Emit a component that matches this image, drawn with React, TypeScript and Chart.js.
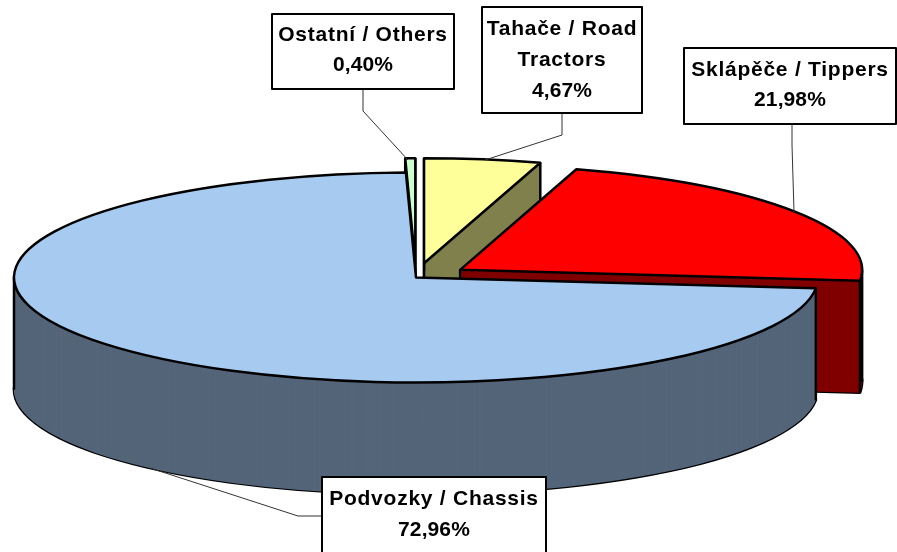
import React, { useEffect, useRef } from "react";
import { Chart, registerables } from "chart.js";

Chart.register(...registerables);

// Data, clockwise from twelve o'clock
const categories = ["Tahače / Road Tractors", "Sklápěče / Tippers", "Podvozky / Chassis", "Ostatní / Others"];
const shares = [4.67, 21.98, 72.96, 0.4];
const shareLabels = ["4,67%", "21,98%", "72,96%", "0,40%"];
const nameLines = [["Tahače / Road", "Tractors"], ["Sklápěče / Tippers"], ["Podvozky / Chassis"], ["Ostatní / Others"]];

// Styles
const topColors = ["#ffff99", "#ff0000", "#a6caf0", "#ccffcc"];
const wallColors = ["#80804d", "#800000", "#546579", "#668066"];

// Layout
const W = 897;
const H = 552;
const CX = 416;
const CY = 277.5;
const RX = 402;
const RY = 105;
const DEPTH = 112;
const explodeBy = [55, 53, 0, 55];
const paintOrder = [0, 1, 3, 2];
const boxes = [
  { x: 482, y: 7, w: 160, h: 106, first: 29, step: 31, leader: [[562, 113], [562, 135], [485, 160]] },
  { x: 684, y: 48, w: 212, h: 76, first: 70, step: 30.5, leader: [[792, 124], [792, 145], [794, 212]] },
  { x: 322, y: 477, w: 224, h: 90, first: 499, step: 31, leader: [[322, 516], [298, 516], [150, 468]] },
  { x: 272, y: 14, w: 182, h: 75, first: 35, step: 30.5, leader: [[363, 89], [363, 111], [408, 160]] },
];

const pie3d = {
  id: "pie3d",
  beforeDatasetsDraw(chart: any) {
    const ctx = chart.ctx as CanvasRenderingContext2D;
    const arcs = chart.getDatasetMeta(0).data;
    for (const i of paintOrder) {
      const arc = arcs[i];
      const mid = (arc.startAngle + arc.endAngle) / 2;
      const cx = CX + Math.cos(mid) * explodeBy[i];
      const cy = CY + (Math.sin(mid) * explodeBy[i] * RY) / RX;
      const s = RX / arc.outerRadius;
      const t = RY / arc.outerRadius;

      const face = (el: any, dy: number) => {
        ctx.save();
        ctx.translate(cx, cy + dy);
        ctx.scale(s, t);
        ctx.translate(-arc.x, -arc.y);
        el.draw(ctx);
        ctx.restore();
      };
      const outline = (dy: number) => {
        ctx.beginPath();
        ctx.moveTo(cx, cy + dy);
        ctx.ellipse(cx, cy + dy, RX, RY, 0, arc.startAngle, arc.endAngle);
        ctx.closePath();
        ctx.strokeStyle = "#000";
        ctx.lineWidth = 2.5;
        ctx.lineJoin = "round";
        ctx.stroke();
      };

      const wall = Object.create(arc);
      wall.options = { ...arc.options, backgroundColor: wallColors[i], borderWidth: 0 };
      outline(DEPTH);
      for (let d = DEPTH; d >= 1; d--) face(wall, d);

      // vertical edges of the wall that can be seen from the front
      const edges: number[] = [arc.endAngle];
      const startHidden = Math.sin(arc.startAngle) < 0 && Math.cos(arc.startAngle) > 0.1;
      if (!startHidden) edges.push(arc.startAngle);
      for (const a of [0, Math.PI, 2 * Math.PI]) {
        if (a > arc.startAngle && a < arc.endAngle) edges.push(a);
      }
      ctx.strokeStyle = "#000";
      ctx.lineWidth = 2.5;
      for (const a of edges) {
        const x = cx + Math.cos(a) * RX;
        const y = cy + Math.sin(a) * RY;
        ctx.beginPath();
        ctx.moveTo(x, y);
        ctx.lineTo(x, y + DEPTH);
        ctx.stroke();
      }
      if (arc.endAngle - arc.startAngle < Math.PI) {
        ctx.beginPath();
        ctx.moveTo(cx, cy);
        ctx.lineTo(cx, cy + DEPTH);
        ctx.stroke();
      }

      face(arc, 0);
      outline(0);
    }
    return false;
  },
  afterDraw(chart: any) {
    const ctx = chart.ctx as CanvasRenderingContext2D;
    boxes.forEach((b, i) => {
      ctx.beginPath();
      b.leader.forEach(([x, y], k) => (k ? ctx.lineTo(x, y) : ctx.moveTo(x, y)));
      ctx.strokeStyle = "#333";
      ctx.lineWidth = 1;
      ctx.stroke();

      ctx.fillStyle = "#fff";
      ctx.fillRect(b.x, b.y, b.w, b.h);
      ctx.strokeStyle = "#000";
      ctx.lineWidth = 2;
      ctx.strokeRect(b.x, b.y, b.w, b.h);

      ctx.fillStyle = "#000";
      ctx.font = 'bold 21px "Liberation Sans", Arial, sans-serif';
      ctx.textAlign = "center";
      ctx.textBaseline = "middle";
      const lines = [...nameLines[i], shareLabels[i]];
      lines.forEach((line, k) => {
        (ctx as any).letterSpacing = k === lines.length - 1 ? "0.1px" : "0.75px";
        ctx.fillText(line, b.x + b.w / 2, b.first + k * b.step);
      });
      (ctx as any).letterSpacing = "0px";
    });
  },
};

export default function App() {
  const ref = useRef<HTMLCanvasElement>(null);
  useEffect(() => {
    document.body.style.margin = "0";
    const chart = new Chart(ref.current!, {
      type: "pie",
      data: {
        labels: categories,
        datasets: [{ data: shares, backgroundColor: topColors, borderWidth: 0 }],
      },
      options: {
        responsive: false,
        animation: false,
        rotation: 0,
        layout: { padding: 0 },
        plugins: { legend: { display: false }, tooltip: { enabled: false }, title: { display: false } },
      },
      plugins: [pie3d],
    } as any);
    return () => chart.destroy();
  }, []);
  return <canvas ref={ref} width={W} height={H} style={{ display: "block", width: W, height: H }} />;
}
